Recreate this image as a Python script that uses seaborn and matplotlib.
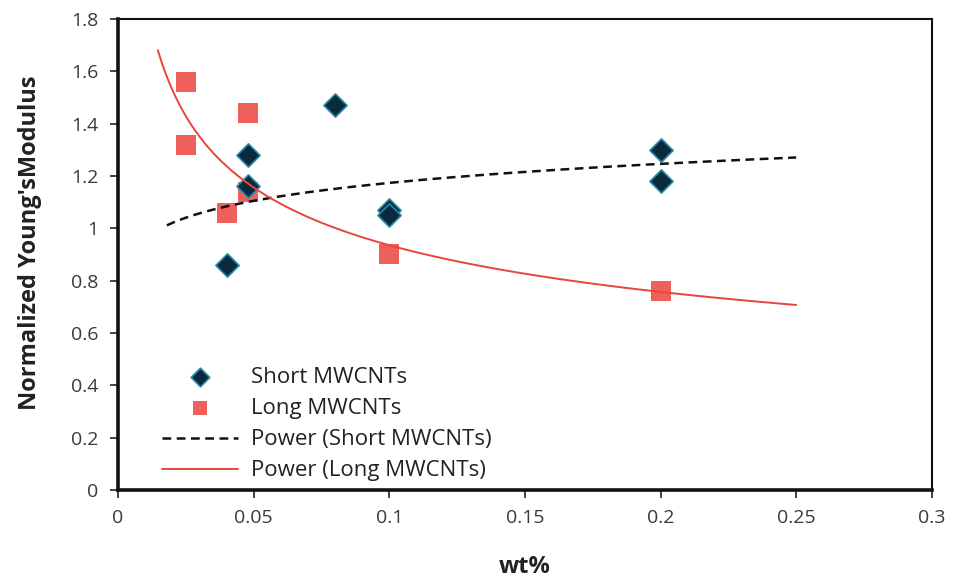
import numpy as np
import pandas as pd
import matplotlib
matplotlib.use("Agg")
import matplotlib.pyplot as plt
from matplotlib.ticker import FuncFormatter
import seaborn as sns

# Measured normalized Young's modulus vs. filler loading
short_wt = [0.04, 0.048, 0.048, 0.08, 0.1, 0.1, 0.2, 0.2]
short_E = [0.86, 1.28, 1.16, 1.47, 1.07, 1.05, 1.30, 1.18]

long_wt = [0.025, 0.025, 0.048, 0.048, 0.04, 0.1, 0.2]
long_E = [1.56, 1.32, 1.44, 1.14, 1.06, 0.90, 0.76]

x_ticks = [0, 0.05, 0.1, 0.15, 0.2, 0.25, 0.3]
y_ticks = [0, 0.2, 0.4, 0.6, 0.8, 1.0, 1.2, 1.4, 1.6, 1.8]

# Range over which each power-law trendline is drawn
short_fit_range = (0.018, 0.25)
long_fit_range = (0.0147, 0.25)


def power_fit(x, y, xr):
    b, ln_a = np.polyfit(np.log(x), np.log(y), 1)
    xs = np.linspace(xr[0], xr[1], 300)
    return pd.DataFrame({"x": xs, "y": np.exp(ln_a) * xs ** b})


sns.set_theme(style="white")
plt.rcParams["font.family"] = ["Open Sans", "DejaVu Sans"]

fig = plt.figure(figsize=(9.54, 5.83), dpi=100)
ax = fig.add_axes([0.1237, 0.1595, 0.853, 0.808])

short_df = pd.DataFrame({"wt": short_wt, "E": short_E})
long_df = pd.DataFrame({"wt": long_wt, "E": long_E})
short_tr = power_fit(short_wt, short_E, short_fit_range)
long_tr = power_fit(long_wt, long_E, long_fit_range)

sns.scatterplot(data=short_df, x="wt", y="E", ax=ax, marker="D", s=140,
                color="#0b2a3e", edgecolor="#2a8aa8", linewidth=1.2,
                label="Short MWCNTs", zorder=4)
sns.scatterplot(data=long_df, x="wt", y="E", ax=ax, marker="s", s=190,
                color="#f0605a", edgecolor="#f0605a", linewidth=0,
                label="Long MWCNTs", zorder=3)
sns.lineplot(data=short_tr, x="x", y="y", ax=ax, color="#111111",
             linestyle=(0, (3.5, 2.2)), linewidth=1.8,
             label="Power (Short MWCNTs)", zorder=5)
sns.lineplot(data=long_tr, x="x", y="y", ax=ax, color="#e8453f",
             linewidth=1.4, label="Power (Long MWCNTs)", zorder=5)

ax.set_xlim(0, 0.3)
ax.set_ylim(0, 1.8)
ax.set_xticks(x_ticks)
ax.set_yticks(y_ticks)
fmt = FuncFormatter(lambda v, p: f"{v:g}")
ax.xaxis.set_major_formatter(fmt)
ax.yaxis.set_major_formatter(fmt)
ax.tick_params(axis="both", which="major", direction="out", length=6,
               width=1.2, color="#222222", labelsize=14,
               labelcolor="#3a3a3a", pad=8, left=True, bottom=True)

for side, lw in [("left", 2.6), ("bottom", 2.6), ("top", 1.5), ("right", 1.5)]:
    ax.spines[side].set_visible(True)
    ax.spines[side].set_color("#111111")
    ax.spines[side].set_linewidth(lw)

ax.set_xlabel("wt%", fontsize=17, fontweight="bold", color="#222222")
ax.set_ylabel("Normalized Young'sModulus", fontsize=17, fontweight="bold",
              color="#222222")
ax.xaxis.set_label_coords(0.5, -0.137)
ax.yaxis.set_label_coords(-0.093, 0.525)

leg = ax.legend(loc="lower left", bbox_to_anchor=(0.03, -0.024), frameon=False,
                fontsize=16, handlelength=3.4, handletextpad=0.6,
                labelspacing=0.45, labelcolor="#222222")
leg.legend_handles[0].set_sizes([90])
leg.legend_handles[1].set_sizes([110])

fig.savefig("out.png", dpi=100, facecolor="white")
